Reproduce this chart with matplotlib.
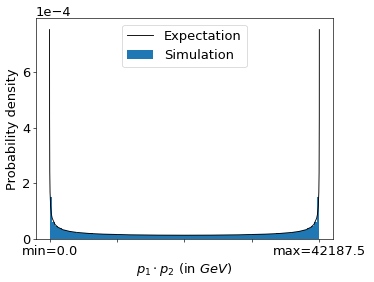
import matplotlib
matplotlib.use("Agg")
import matplotlib.pyplot as plt
import numpy as np

# x range
x_min = 0.0
x_max = 42187.5

# Expectation curve: positions as fraction of range, density in units of 1e-4
exp_frac = [0.0001, 0.0003, 0.001, 0.002, 0.004, 0.007, 0.01, 0.02, 0.03, 0.05,
            0.075, 0.1, 0.15, 0.2, 0.3, 0.4, 0.5,
            0.6, 0.7, 0.8, 0.85, 0.9, 0.925, 0.95, 0.97, 0.98, 0.99, 0.993,
            0.996, 0.998, 0.999, 0.9997, 0.9999]
exp_density = [7.5, 4.36, 2.39, 1.69, 1.19, 0.90, 0.758, 0.539, 0.443, 0.346,
               0.287, 0.252, 0.211, 0.189, 0.165, 0.154, 0.151,
               0.154, 0.165, 0.189, 0.211, 0.252, 0.287, 0.346, 0.443, 0.539,
               0.758, 0.90, 1.19, 1.69, 2.39, 4.36, 7.5]

# Simulation histogram: bin edges as fraction of range, heights in units of 1e-4
sim_edges = [0.0, 0.01, 0.02, 0.03, 0.045, 0.06, 0.08, 0.1, 0.13, 0.16, 0.2,
             0.25, 0.3, 0.4, 0.5, 0.6, 0.7, 0.75, 0.8, 0.84, 0.87, 0.9, 0.92,
             0.94, 0.955, 0.97, 0.98, 0.99, 1.0]
sim_heights = [1.51, 0.630, 0.486, 0.399, 0.339, 0.296, 0.264, 0.237, 0.215,
               0.197, 0.181, 0.169, 0.159, 0.152, 0.152, 0.159, 0.169, 0.181,
               0.197, 0.215, 0.237, 0.264, 0.296, 0.339, 0.399, 0.486, 0.630,
               1.51]

unit = 1e-4
xticks_frac = [0.0, 0.25, 0.5, 0.75, 1.0]
xtick_labels = ["min=0.0", "", "", "", "max=42187.5"]
yticks = [0, 2, 4, 6]

FS = 16
dpi = 374 / 6.4
fig = plt.figure(figsize=(6.4, 282 / dpi), dpi=dpi)
ax = fig.add_axes([0.0963, 0.151, 0.7937, 0.785])

span = x_max - x_min
edges = np.array(sim_edges) * span + x_min
heights = np.array(sim_heights) * unit
ax.bar(edges[:-1], heights, width=np.diff(edges), align="edge",
       color="#1f77b4", label="Simulation", linewidth=0)
ax.plot(np.array(exp_frac) * span + x_min, np.array(exp_density) * unit,
        color="black", linewidth=1.1, label="Expectation")

ax.set_xticks(np.array(xticks_frac) * span + x_min)
ax.set_xticklabels(xtick_labels)
ax.set_yticks(np.array(yticks) * unit)
ax.set_xlabel(r"$p_1 \cdot p_2$ (in $GeV$)", fontsize=FS)
ax.set_ylabel("Probability density", fontsize=FS)
ax.tick_params(labelsize=FS)
ax.ticklabel_format(axis="y", style="sci", scilimits=(0, 0))
ax.yaxis.get_offset_text().set_fontsize(FS)
ax.set_xlim(x_min - 0.05 * span, x_max + 0.05 * span)
ax.set_ylim(0, 7.5 * unit * 1.055)
ax.legend(loc="upper center", fontsize=FS)

fig.savefig("out.png", dpi=dpi)
